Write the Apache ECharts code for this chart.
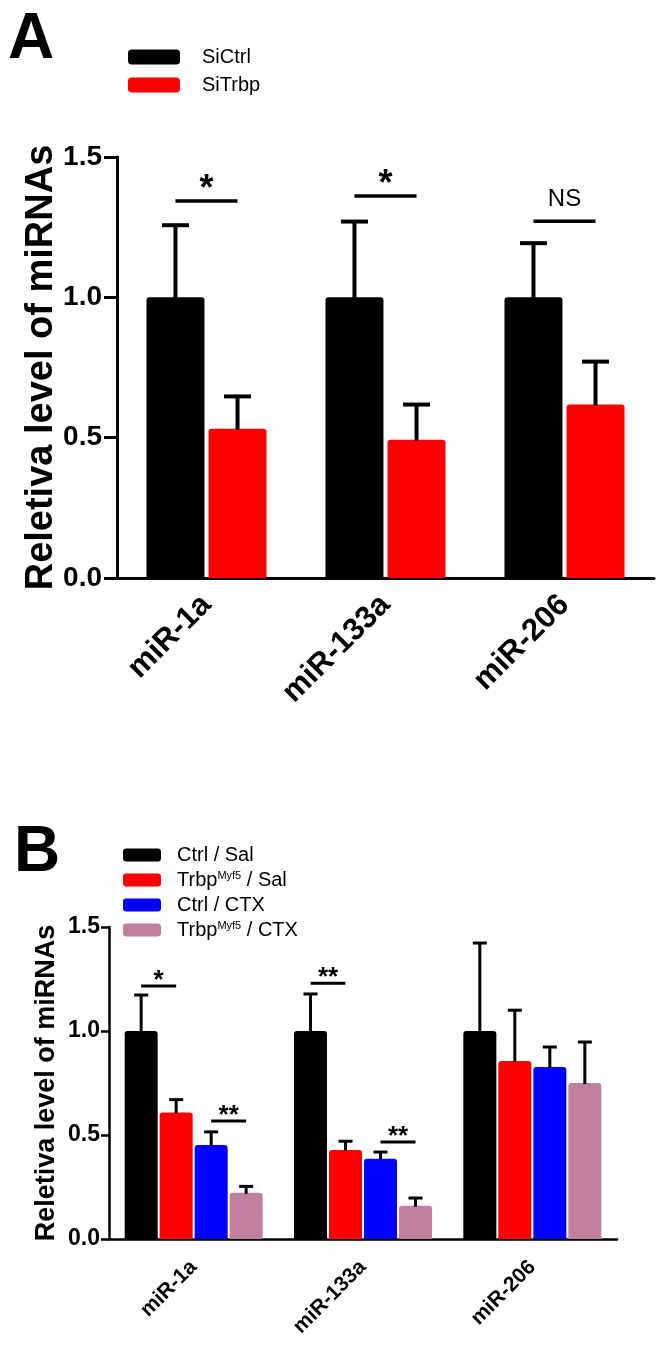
<!DOCTYPE html>
<html><head><meta charset="utf-8">
<script src="https://cdn.jsdelivr.net/npm/echarts@6/dist/echarts.min.js"></script>
<style>html,body{margin:0;padding:0;background:#fff}#c{width:666px;height:1349px}</style>
</head><body><div id="c"></div>
<script>
// ---- data ----
const categories = ['miR-1a', 'miR-133a', 'miR-206'];
// Panel A
const siCtrl = [1.0, 1.0, 1.0];
const siCtrlSem = [0.257, 0.27, 0.193];
const siTrbp = [0.532, 0.493, 0.618];
const siTrbpSem = [0.115, 0.125, 0.153];
// Panel B
const ctrlSal = [1.0, 1.0, 1.0];
const ctrlSalSem = [0.173, 0.178, 0.423];
const trbpSal = [0.608, 0.428, 0.856];
const trbpSalSem = [0.062, 0.042, 0.244];
const ctrlCtx = [0.452, 0.386, 0.827];
const ctrlCtxSem = [0.063, 0.032, 0.096];
const trbpCtx = [0.222, 0.16, 0.75];
const trbpCtxSem = [0.031, 0.037, 0.197];
const yMin = 0, yMax = 1.5, yStep = 0.5;
// significance: [category, barFrom, barTo, level, label]
const sigA = [[0, 0, 1, 1.343, '*'], [1, 0, 1, 1.361, '*'], [2, 0, 1, 1.271, 'NS']];
const sigB = [[0, 0, 1, 1.216, '*'], [0, 2, 3, 0.567, '**'], [1, 0, 1, 1.23, '**'], [1, 2, 3, 0.466, '**']];
const yName = 'Reletiva level of miRNAs';

// ---- styles ----
const FONT = '"Liberation Sans", Arial, sans-serif';
const A = {barPct: 0.324, gap: 0.07, lw: 4, cap: 27, sigLw: 3.5};
const B = {barPct: 0.195, gap: 0.06, lw: 3, cap: 14, sigLw: 3};
const colorsA = ['#000000', '#ff0000'];
const colorsB = ['#000000', '#ff0000', '#0000ff', '#c17fa0'];

function barX(api, cat, i, n, st) {
  const c = api.coord([cat, 0]);
  const band = api.size([1, 0])[0];
  const w = band * st.barPct, g = w * st.gap;
  const T = n * w + (n - 1) * g;
  return c[0] - T / 2 + w / 2 + i * (w + g);
}

function errSeries(grid, i, n, means, sems, st) {
  return {
    type: 'custom', xAxisIndex: grid, yAxisIndex: grid, z: 3, silent: true,
    data: means.map((m, k) => [k, m, m + sems[k]]),
    renderItem: function (params, api) {
      const cat = api.value(0);
      const x = barX(api, cat, i, n, st);
      const y0 = api.coord([cat, api.value(1)])[1] + 1;
      const y1 = api.coord([cat, api.value(2)])[1];
      const s = {stroke: '#000', lineWidth: st.lw};
      return {type: 'group', children: [
        {type: 'line', shape: {x1: x, y1: y0, x2: x, y2: y1}, style: s},
        {type: 'line', shape: {x1: x - st.cap / 2, y1: y1, x2: x + st.cap / 2, y2: y1}, style: s}
      ]};
    }
  };
}

function sigSeries(grid, n, sig, st, starFont, starOff, nsFont, nsOff) {
  return {
    type: 'custom', xAxisIndex: grid, yAxisIndex: grid, z: 4, silent: true,
    data: sig.map(d => [d[0], d[3], d[1], d[2]]),
    renderItem: function (params, api) {
      const cat = api.value(0);
      const y = api.coord([cat, api.value(1)])[1];
      const xa = barX(api, cat, api.value(2), n, st);
      const xb = barX(api, cat, api.value(3), n, st);
      const lab = sig[params.dataIndex][4];
      const isNS = lab === 'NS';
      return {type: 'group', children: [
        {type: 'line', shape: {x1: xa, y1: y, x2: xb, y2: y}, style: {stroke: '#000', lineWidth: st.sigLw}},
        {type: 'text', style: {text: lab, x: (xa + xb) / 2, y: y - (isNS ? nsOff : starOff),
          textAlign: 'center', textVerticalAlign: 'middle', fill: '#000',
          font: isNS ? ('normal ' + nsFont + 'px ' + FONT) : ('bold ' + starFont + 'px ' + FONT)}}
      ]};
    }
  };
}

function barSeries(name, grid, data, color, st) {
  return {
    name: name, type: 'bar', xAxisIndex: grid, yAxisIndex: grid,
    data: data, barWidth: (st.barPct * 100) + '%', barGap: (st.gap * 100) + '%',
    itemStyle: {color: color, borderRadius: [3, 3, 0, 0]}, z: 2
  };
}

const nmB = ['Ctrl / Sal', 'Trbp\u200bMyf5 / Sal', 'Ctrl / CTX', 'Trbp\u200bMyf5 / CTX'];

const chart = echarts.init(document.getElementById('c'), null, {renderer: 'canvas'});
chart.setOption({
  backgroundColor: '#fff',
  animation: false,
  textStyle: {fontFamily: FONT},
  title: [
    {text: 'A', left: 3, top: 3, textStyle: {fontSize: 64, fontWeight: 'bold', color: '#000', fontFamily: FONT}},
    {text: 'B', left: 9, top: 816, textStyle: {fontSize: 64, fontWeight: 'bold', color: '#000', fontFamily: FONT}}
  ],
  legend: [
    {data: ['SiCtrl', 'SiTrbp'], orient: 'vertical', left: 128, top: 47, padding: 0, icon: 'roundRect',
     itemWidth: 52, itemHeight: 15, itemGap: 8,
     textStyle: {fontSize: 20, color: '#000', fontFamily: FONT, padding: [0, 0, 0, 17]}},
    {data: nmB, orient: 'vertical', left: 123, top: 845, padding: 0, icon: 'roundRect',
     itemWidth: 38, itemHeight: 13, itemGap: 5,
     formatter: function (nm) {
       const p = nm.split('\u200b');
       if (p.length === 1) return '{n|' + nm + '}';
       const q = p[1].split(' ');
       return '{n|' + p[0] + '}{s|' + q[0] + '}{n| ' + q.slice(1).join(' ') + '}';
     },
     textStyle: {fontSize: 20, color: '#000', fontFamily: FONT, padding: [0, 0, 0, 11],
       rich: {n: {fontSize: 20, color: '#000', fontFamily: FONT, lineHeight: 20},
              s: {fontSize: 11, color: '#000', fontFamily: FONT, verticalAlign: 'top', lineHeight: 20, padding: [0, 0, 6, 0]}}}}
  ],
  grid: [
    {left: 117, top: 157, width: 537, height: 421},
    {left: 109, top: 927, width: 508, height: 312}
  ],
  xAxis: [
    {type: 'category', gridIndex: 0, data: categories,
     axisLine: {lineStyle: {color: '#000', width: 3}},
     axisTick: {alignWithLabel: true, length: 13, lineStyle: {color: '#000', width: 3}},
     axisLabel: {rotate: 45, interval: 0, margin: 22, fontSize: 31, fontWeight: 'bold', color: '#000', fontFamily: FONT}},
    {type: 'category', gridIndex: 1, data: categories,
     axisLine: {lineStyle: {color: '#000', width: 2.5}},
     axisTick: {alignWithLabel: true, length: 8, lineStyle: {color: '#000', width: 2.5}},
     axisLabel: {rotate: 45, interval: 0, margin: 25, fontSize: 21, fontWeight: 'bold', color: '#000', fontFamily: FONT}}
  ],
  yAxis: [
    {type: 'value', gridIndex: 0, min: yMin, max: yMax, interval: yStep,
     name: yName, nameLocation: 'middle', nameGap: 56, nameMoveOverlap: false,
     nameTextStyle: {fontSize: 38, fontWeight: 'bold', color: '#000', fontFamily: FONT},
     axisLine: {show: true, lineStyle: {color: '#000', width: 3}},
     axisTick: {show: true, length: 13, lineStyle: {color: '#000', width: 3}},
     splitLine: {show: false},
     axisLabel: {margin: 15, fontSize: 28, fontWeight: 'bold', color: '#000', fontFamily: FONT,
       formatter: v => v.toFixed(1)}},
    {type: 'value', gridIndex: 1, min: yMin, max: yMax, interval: yStep,
     name: yName, nameLocation: 'middle', nameGap: 49, nameMoveOverlap: false,
     nameTextStyle: {fontSize: 27, fontWeight: 'bold', color: '#000', fontFamily: FONT},
     axisLine: {show: true, lineStyle: {color: '#000', width: 2.5}},
     axisTick: {show: true, length: 8, lineStyle: {color: '#000', width: 2.5}},
     splitLine: {show: false},
     axisLabel: {margin: 9, fontSize: 23, fontWeight: 'bold', color: '#000', fontFamily: FONT,
       formatter: v => v.toFixed(1)}}
  ],
  series: [
    barSeries('SiCtrl', 0, siCtrl, colorsA[0], A),
    barSeries('SiTrbp', 0, siTrbp, colorsA[1], A),
    errSeries(0, 0, 2, siCtrl, siCtrlSem, A),
    errSeries(0, 1, 2, siTrbp, siTrbpSem, A),
    sigSeries(0, 2, sigA, A, 36, 11, 24, 22),
    barSeries(nmB[0], 1, ctrlSal, colorsB[0], B),
    barSeries(nmB[1], 1, trbpSal, colorsB[1], B),
    barSeries(nmB[2], 1, ctrlCtx, colorsB[2], B),
    barSeries(nmB[3], 1, trbpCtx, colorsB[3], B),
    errSeries(1, 0, 4, ctrlSal, ctrlSalSem, B),
    errSeries(1, 1, 4, trbpSal, trbpSalSem, B),
    errSeries(1, 2, 4, ctrlCtx, ctrlCtxSem, B),
    errSeries(1, 3, 4, trbpCtx, trbpCtxSem, B),
    sigSeries(1, 4, sigB, B, 26, 5, 20, 20)
  ]
});
</script></body></html>
